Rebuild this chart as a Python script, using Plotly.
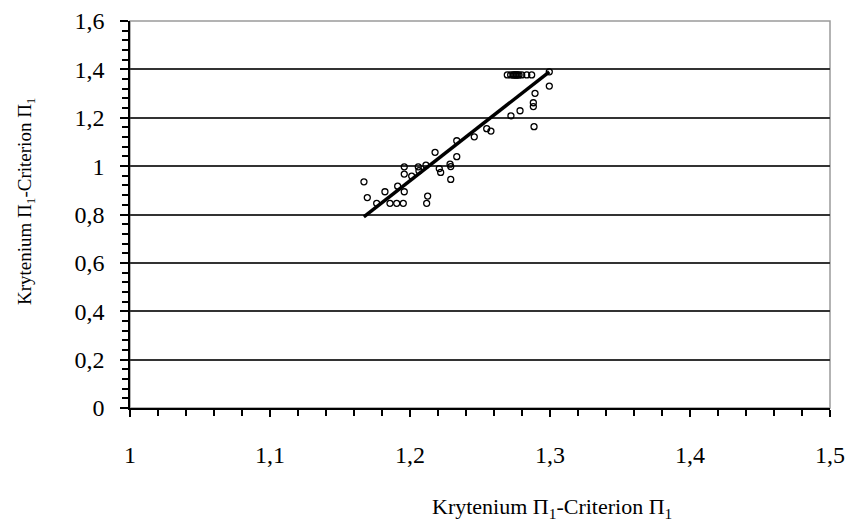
import plotly.graph_objects as go

# ---- data ----
point_x = [1.1671, 1.1695, 1.1762, 1.1821, 1.1857, 1.1905, 1.1952, 1.1912, 1.1959,
           1.1959, 1.1959, 1.2012, 1.2059, 1.2064, 1.2114, 1.2126, 1.2119, 1.2179,
           1.2209, 1.2219, 1.2286, 1.2291, 1.2291, 1.2334, 1.2334, 1.2459, 1.2548,
           1.2578, 1.2721, 1.2786, 1.2881, 1.2881, 1.2886, 1.2893, 1.2995, 1.2995,
           1.2695, 1.2719, 1.2736, 1.2743, 1.2750, 1.2757, 1.2764, 1.2771, 1.2779,
           1.2798, 1.2834, 1.2869]
point_y = [0.935, 0.870, 0.846, 0.894, 0.846, 0.846, 0.846, 0.917, 0.894,
           0.997, 0.967, 0.959, 0.997, 0.981, 1.004, 0.876, 0.846, 1.057,
           0.990, 0.974, 1.008, 0.998, 0.945, 1.105, 1.039, 1.121, 1.155,
           1.145, 1.208, 1.229, 1.262, 1.246, 1.163, 1.301, 1.331, 1.390,
           1.377, 1.377, 1.377, 1.377, 1.377, 1.377, 1.377, 1.377, 1.377,
           1.377, 1.377, 1.377]

trend_x = [1.167, 1.2995]
trend_y = [0.79, 1.39]

x_tickvals = [1.0, 1.1, 1.2, 1.3, 1.4, 1.5]
x_ticktext = ["1", "1,1", "1,2", "1,3", "1,4", "1,5"]
y_tickvals = [0.0, 0.2, 0.4, 0.6, 0.8, 1.0, 1.2, 1.4, 1.6]
y_ticktext = ["0", "0,2", "0,4", "0,6", "0,8", "1", "1,2", "1,4", "1,6"]

axis_title = "Krytenium \u03a0<sub>1</sub>-Criterion \u03a0<sub>1</sub>"

FONT = "Liberation Serif, Times New Roman, serif"

fig = go.Figure()
fig.add_trace(go.Scatter(
    x=point_x, y=point_y, mode="markers",
    marker=dict(symbol="circle-open", size=6, color="black", line=dict(width=1.3, color="black")),
    showlegend=False, cliponaxis=False))
fig.add_trace(go.Scatter(
    x=trend_x, y=trend_y, mode="lines",
    line=dict(color="black", width=3.5),
    showlegend=False))

fig.update_layout(
    width=851, height=526,
    margin=dict(l=130, r=21, t=21, b=118),
    paper_bgcolor="white", plot_bgcolor="white",
    font=dict(family=FONT, size=20, color="black"),
    showlegend=False,
    xaxis=dict(
        range=[1.0, 1.5], tickvals=x_tickvals, ticktext=x_ticktext,
        showgrid=False, zeroline=False, automargin=False,
        showline=True, linecolor="black", linewidth=1.5,
        ticks="outside", ticklen=7, tickwidth=1.5, tickcolor="black",
        ticklabelstandoff=17,
        minor=dict(dtick=0.02, ticks="outside", ticklen=6, tickwidth=1.5, tickcolor="black", showgrid=False),
        tickfont=dict(family=FONT, size=24),
    ),
    yaxis=dict(
        range=[0.0, 1.6], tickvals=y_tickvals, ticktext=y_ticktext,
        showgrid=True, gridcolor="#333333", gridwidth=1.5, zeroline=False, automargin=False,
        showline=True, linecolor="black", linewidth=1.5,
        ticks="outside", ticklen=8, tickwidth=1.5, tickcolor="black",
        ticklabelstandoff=11,
        minor=dict(dtick=0.04, ticks="outside", ticklen=6, tickwidth=1.5, tickcolor="black", showgrid=False),
        tickfont=dict(family=FONT, size=24),
    ),
    xaxis2=dict(overlaying="x", matches="x", anchor="y", range=[1.0, 1.5], tickvals=x_tickvals,
                showticklabels=False, showgrid=False, zeroline=False, showline=False, automargin=False,
                ticks="inside", ticklen=5, tickwidth=1.5, tickcolor="black"),
    yaxis2=dict(overlaying="y", matches="y", anchor="x", range=[0.0, 1.6], tickvals=y_tickvals,
                showticklabels=False, showgrid=False, zeroline=False, showline=False, automargin=False,
                ticks="inside", ticklen=5, tickwidth=1.5, tickcolor="black"),
    shapes=[dict(type="rect", xref="paper", yref="paper", x0=0, x1=1, y0=0, y1=1,
                 line=dict(color="#9a9a9a", width=1.5), layer="between")],
    annotations=[
        dict(text=axis_title, xref="paper", yref="paper", x=(552 - 130) / 700, y=-(508 - 408) / 387,
             xanchor="center", yanchor="middle", showarrow=False,
             font=dict(family=FONT, size=22)),
        dict(text=axis_title, xref="paper", yref="paper", x=-(130 - 26) / 700, y=(408 - 201) / 387,
             xanchor="center", yanchor="middle", showarrow=False, textangle=-90,
             font=dict(family=FONT, size=19)),
    ],
)

fig.write_html("out.html", config={"displayModeBar": False},
               post_script="document.body.style.margin='0';document.body.style.overflow='hidden';")
